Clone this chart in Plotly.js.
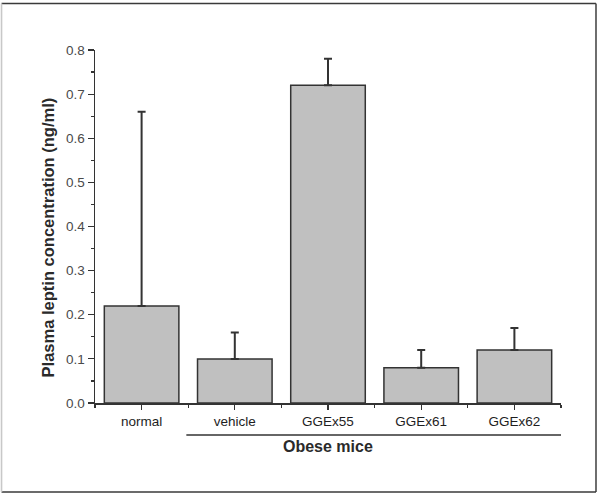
<!DOCTYPE html>
<html>
<head>
<meta charset="utf-8">
<script src="https://cdn.plot.ly/plotly-3.0.1.min.js"></script>
<style>
  html, body { margin: 0; padding: 0; background: #ffffff; }
  #chart { width: 602px; height: 496px; }
</style>
</head>
<body>
<div id="chart"></div>
<script>
// Plasma leptin per group (ng/ml), with upper error
const groups = ["normal", "vehicle", "GGEx55", "GGEx61", "GGEx62"];
const leptin = [0.22, 0.10, 0.72, 0.08, 0.12];
const leptinErr = [0.44, 0.06, 0.06, 0.04, 0.05];
const yTicks = [0.0, 0.1, 0.2, 0.3, 0.4, 0.5, 0.6, 0.7, 0.8];
const groupLabel = "Obese mice";
const yLabel = "Plasma leptin concentration (ng/ml)";

const ink = "#333333";
const fontFam = "'Liberation Sans', Arial, sans-serif";
const pos = groups.map((_, i) => i);

const trace = {
  type: "bar",
  x: pos,
  y: leptin,
  width: 0.8,
  marker: { color: "#c0c0c0", line: { color: ink, width: 1.5 } },
  error_y: {
    type: "data",
    symmetric: false,
    array: leptinErr,
    arrayminus: leptin.map(() => 0),
    color: ink,
    thickness: 2,
    width: 4
  },
  hoverinfo: "skip"
};

// frame around the whole figure, in plot-paper units
const L = -0.2006, R = 1.0751, T = 1.1317, B = -0.2521;
const frame = [
  { x0: L, x1: R, y0: T, y1: T, c: "#3a3a3a" },
  { x0: R, x1: R, y0: B, y1: T, c: "#4a4a4a" },
  { x0: L, x1: R, y0: B, y1: B, c: "#3a3a3a" },
  { x0: L, x1: L, y0: B, y1: T, c: "#c8c8c8" }
].map(s => ({
  type: "line", xref: "paper", yref: "paper",
  x0: s.x0, x1: s.x1, y0: s.y0, y1: s.y1,
  line: { color: s.c, width: 1.6 }
}));

const layout = {
  width: 602,
  height: 496,
  margin: { l: 95, r: 41, t: 50, b: 93 },
  paper_bgcolor: "#ffffff",
  plot_bgcolor: "#ffffff",
  showlegend: false,
  font: { family: fontFam, color: ink },
  xaxis: {
    type: "linear",
    range: [-0.5, 4.5],
    tickmode: "array",
    tickvals: pos,
    ticktext: groups,
    ticks: "outside",
    ticklen: 5,
    tickwidth: 1.2,
    tickcolor: ink,
    showline: true,
    linecolor: ink,
    linewidth: 1.5,
    showgrid: false,
    zeroline: false,
    tickfont: { size: 13.5, color: "#1e1e1e", family: fontFam },
    minor: { dtick: 0.5, tick0: 0.5, ticks: "outside", ticklen: 3, tickwidth: 1.2, tickcolor: ink, showgrid: false },
    fixedrange: true
  },
  yaxis: {
    range: [0, 0.8],
    tickmode: "array",
    tickvals: yTicks,
    tickformat: ".1f",
    ticks: "outside",
    ticklen: 6,
    tickwidth: 1.2,
    tickcolor: ink,
    showline: true,
    linecolor: ink,
    linewidth: 1.5,
    showgrid: false,
    zeroline: false,
    tickfont: { size: 13.5, color: "#4a4a4a", family: fontFam },
    minor: { dtick: 0.05, tick0: 0, ticks: "outside", ticklen: 3, tickwidth: 1.2, tickcolor: ink, showgrid: false },
    fixedrange: true
  },
  shapes: [
    // bracket line under the obese-mice groups
    { type: "line", xref: "x", yref: "paper", x0: 0.48, x1: 4.5, y0: -0.0907, y1: -0.0907, line: { color: ink, width: 1.5 } }
  ].concat(frame),
  annotations: [
    {
      text: "<b>" + groupLabel + "</b>",
      xref: "x", yref: "paper",
      x: 2, y: -0.124,
      xanchor: "center", yanchor: "middle",
      showarrow: false,
      font: { size: 16, color: "#2a2a2a", family: fontFam }
    },
    {
      text: "<b>" + yLabel + "</b>",
      xref: "paper", yref: "paper",
      x: -0.1002, y: 0.47,
      xanchor: "center", yanchor: "middle",
      textangle: -90,
      showarrow: false,
      font: { size: 16.5, color: "#2a2a2a", family: fontFam }
    }
  ]
};

Plotly.newPlot("chart", [trace], layout, { displayModeBar: false, staticPlot: true });
</script>
</body>
</html>
